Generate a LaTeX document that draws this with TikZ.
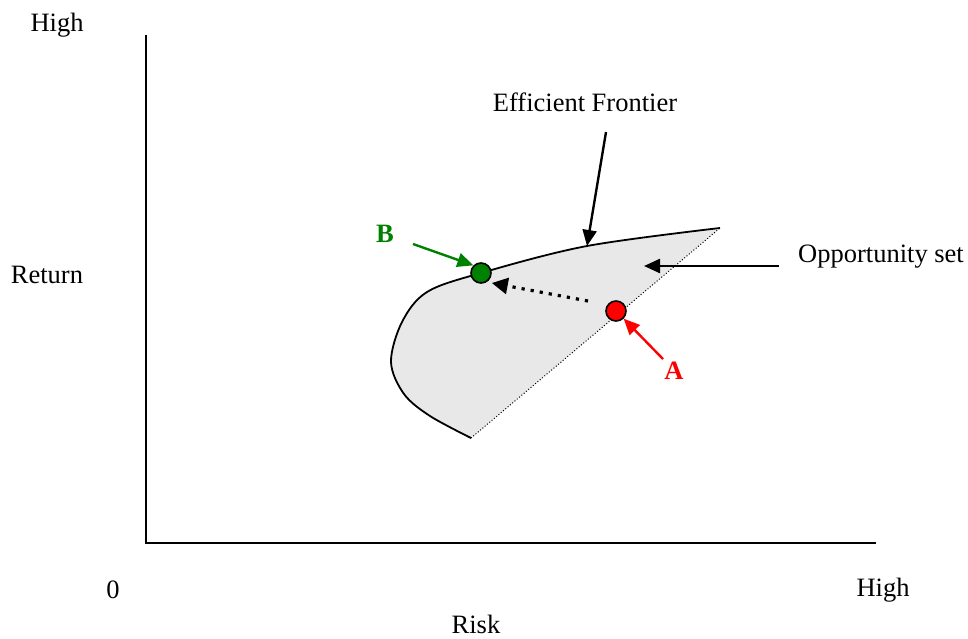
\documentclass[tikz,border=0pt]{standalone}
\usepackage{fontspec}
\setmainfont{Liberation Serif}
\usetikzlibrary{arrows.meta}
\definecolor{dgreen}{HTML}{008000}
\definecolor{fillgray}{HTML}{E8E8E8}
\begin{document}
\begin{tikzpicture}[x=1pt,y=-1pt,
  lbl/.style={inner sep=0pt,font=\fontsize{26.5}{30}\selectfont},
  blbl/.style={lbl,font=\fontsize{26.5}{30}\selectfont\bfseries},
  axis/.style={line width=2pt},
  pointer/.style={line width=2.4pt,-{Triangle[length=16pt,width=14pt]}},
  dot/.style={circle,draw=black,line width=1.6pt,minimum size=20pt,inner sep=0pt}]
\useasboundingbox (0,0) rectangle (968,639);
% axes
\coordinate (ytop) at (146,35);
\coordinate (orig) at (146,543);
\coordinate (xend) at (876,543);
\draw[axis] (ytop) -- (orig) -- (xend);
% axis labels
\node[lbl] (highy) at (57,25) {High};
\node[lbl] (ret) at (47,275) {Return};
\node[lbl] (zero) at (113,590) {0};
\node[lbl] (highx) at (883,590) {High};
\node[lbl] (risk) at (476,624) {Risk};
% opportunity set region
\coordinate (tr) at (720,228);
\coordinate (bl) at (471,438);
\fill[fillgray] plot[smooth,tension=0.55] coordinates {(720,228) (587,246) (481,273) (427,292) (402,322) (391,362) (404,394) (430,416) (471,438)} -- cycle;
\draw[line width=1.8pt] plot[smooth,tension=0.55] coordinates {(720,228) (587,246) (481,273) (427,292) (402,322) (391,362) (404,394) (430,416) (471,438)};
\draw[line width=1pt,dotted] (bl) -- (tr);
% points
\node[dot,fill=dgreen] (B) at (481,273) {};
\node[dot,fill=red] (A) at (616,311) {};
% dotted move arrow
\coordinate (mvs) at (588,301);
\draw[line width=3.2pt,dash pattern=on 3.2pt off 6pt,-{Triangle[length=16pt,width=16pt]}] (mvs) -- (B.east |- 0,283) ;
% labels and pointers
\node[lbl] (ef) at (585,102) {Efficient Frontier};
\coordinate (efs) at (606,132);
\coordinate (eft) at (587,246);
\draw[pointer] (efs) -- (eft);
\node[lbl,anchor=west] (opp) at (798,257) {Opportunity set};
\coordinate (ops) at (779,266);
\coordinate (opt) at (644,266);
\draw[pointer] (ops) -- (opt);
\node[blbl,text=dgreen] (Blab) at (385,234) {B};
\coordinate (bs) at (413,244);
\draw[pointer,draw=dgreen,fill=dgreen] (bs) -- (B.north west);
\node[blbl,text=red] (Alab) at (674,371) {A};
\coordinate (as) at (663,359);
\draw[pointer,draw=red,fill=red] (as) -- (A.south east);
\end{tikzpicture}
\end{document}
